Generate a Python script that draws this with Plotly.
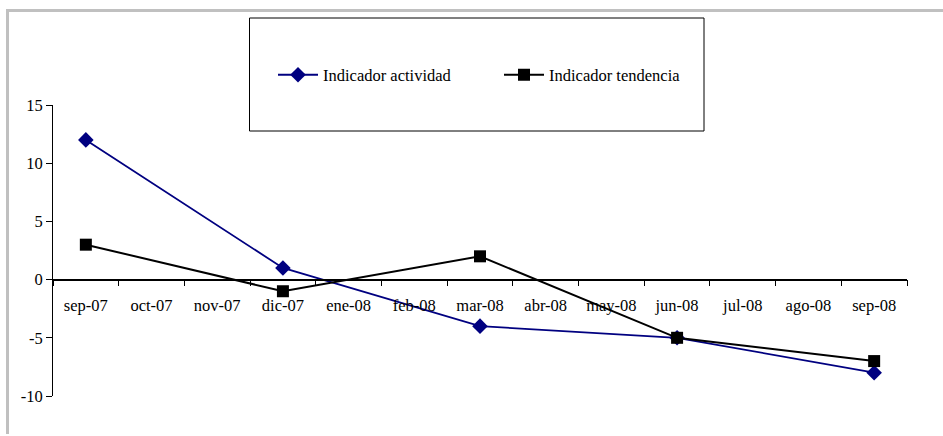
import plotly.graph_objects as go

months = ["sep-07", "oct-07", "nov-07", "dic-07", "ene-08", "feb-08", "mar-08",
          "abr-08", "may-08", "jun-08", "jul-08", "ago-08", "sep-08"]
actividad = [12, None, None, 1, None, None, -4, None, None, -5, None, None, -8]
tendencia = [3, None, None, -1, None, None, 2, None, None, -5, None, None, -7]
y_tickvals = [-10, -5, 0, 5, 10, 15]
y_ticktext = ["-10", "-5", "0", "5", "10", "15"]

W, H = 943, 436
ML, MR, MT, MB = 53, 36, 105, 40
PW, PH = W - ML - MR, H - MT - MB

def px_x(p):
    return (p - ML) / PW

def px_y(p):
    return (H - MB - p) / PH

font = dict(family="Liberation Serif", size=16.5, color="black")

fig = go.Figure()
fig.add_trace(go.Scatter(
    x=months, y=actividad, name="Indicador actividad", mode="lines+markers",
    connectgaps=True, line=dict(color="#000080", width=1.8),
    marker=dict(symbol="diamond", size=12, color="#000080")))
fig.add_trace(go.Scatter(
    x=months, y=tendencia, name="Indicador tendencia", mode="lines+markers",
    connectgaps=True, line=dict(color="black", width=2),
    marker=dict(symbol="square", size=12, color="black")))

fig.update_layout(
    width=W, height=H,
    margin=dict(l=ML, r=MR, t=MT, b=MB, pad=0),
    paper_bgcolor="white", plot_bgcolor="white",
    font=font,
    showlegend=True,
    legend=dict(orientation="h", x=px_x(273), y=px_y(75), xanchor="left", yanchor="middle",
                bgcolor="rgba(0,0,0,0)", borderwidth=0, font=font,
                entrywidth=171, entrywidthmode="pixels", itemwidth=40),
    xaxis=dict(type="category", range=[-0.5, 12.5], anchor="free", position=0.4,
               showline=True, linecolor="black", linewidth=1.5,
               ticks="outside", tickson="boundaries", ticklen=6, tickcolor="black",
               tickwidth=1, showgrid=False, zeroline=False,
               ticklabelstandoff=11, tickfont=font, fixedrange=True),
    yaxis=dict(range=[-10, 15], tickvals=y_tickvals, ticktext=y_ticktext,
               showline=True, linecolor="black", linewidth=1,
               ticks="outside", ticklen=6, tickcolor="black", tickwidth=1,
               showgrid=False, zeroline=False, tickfont=font, fixedrange=True),
    shapes=[
        dict(type="rect", xref="paper", yref="paper",
             x0=px_x(249.5), x1=px_x(704), y0=px_y(131), y1=px_y(18),
             line=dict(color="black", width=1), fillcolor="rgba(0,0,0,0)"),
        dict(type="line", xref="paper", yref="paper",
             x0=px_x(6), x1=px_x(943), y0=px_y(10.5), y1=px_y(10.5),
             line=dict(color="#c0c0c0", width=3)),
        dict(type="line", xref="paper", yref="paper",
             x0=px_x(7.5), x1=px_x(7.5), y0=px_y(10.5), y1=px_y(434),
             line=dict(color="#c0c0c0", width=3)),
    ],
)

fig.write_html("out.html", config={"displayModeBar": False},
               post_script="document.body.style.margin='0';document.body.style.overflow='hidden';")
